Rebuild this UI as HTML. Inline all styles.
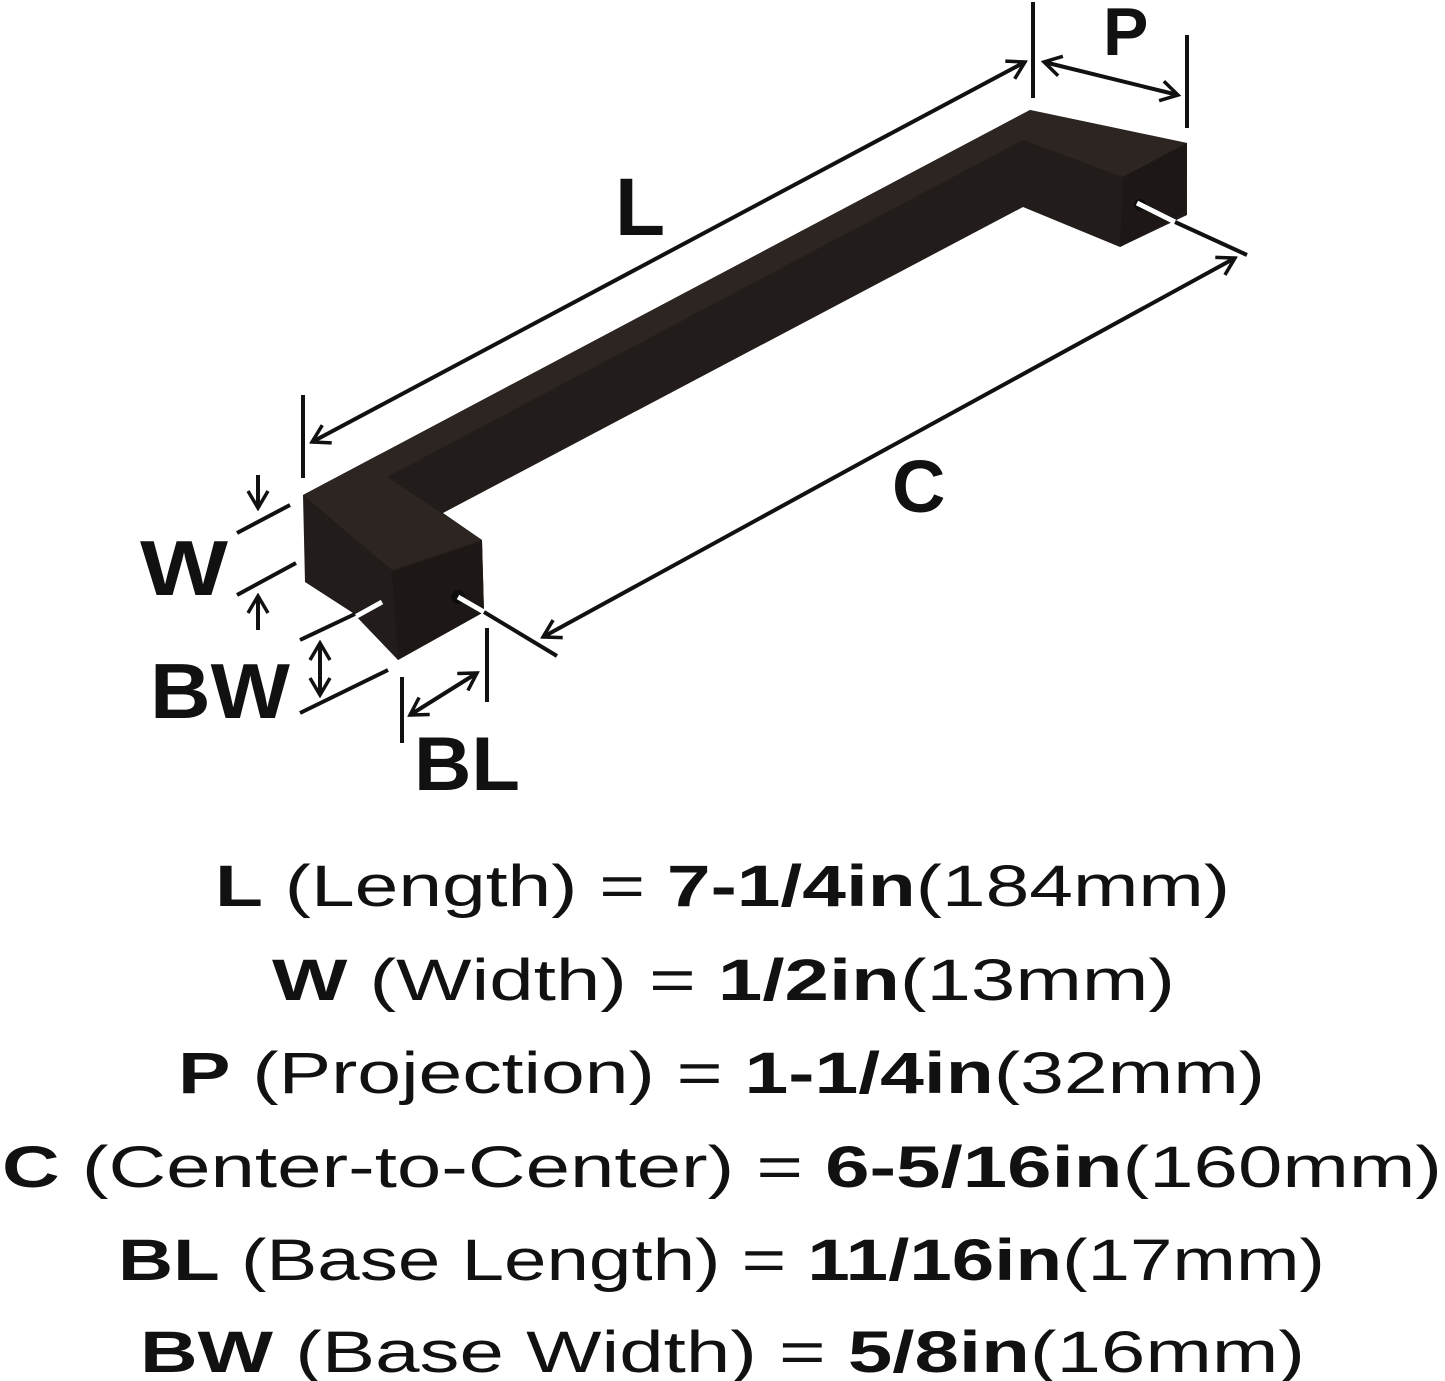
<!DOCTYPE html>
<html><head><meta charset="utf-8"><style>html,body{margin:0;padding:0;background:#fff}svg{display:block}</style></head>
<body>
<svg width="1445" height="1381" viewBox="0 0 1445 1381" xmlns="http://www.w3.org/2000/svg">
<defs>
<marker id="a" viewBox="0 0 24 24" refX="21" refY="12" markerWidth="24" markerHeight="24" markerUnits="userSpaceOnUse" orient="auto-start-reverse">
<polyline points="4,2 21,12 4,22" fill="none" stroke="#111" stroke-width="3.5"/>
</marker>
</defs>
<polygon points="303,495 1030,110 1187,143 1187,215 1120,247 1023,207 443,513 482,540 484,612 398,660 353,613 305,582" fill="#221c1a"/>
<polygon points="303,495 1030,110 1187,143 1123,177 1023,140 387,477 482,540 392,570" fill="#2c2522"/>
<polygon points="392,572 482,541 484,612 398,660" fill="#1d1816"/>
<polygon points="1123,177 1187,143 1185,213 1120,247" fill="#1d1816"/>
<circle cx="458" cy="597" r="7" fill="#0e0c0b"/>
<circle cx="1140" cy="205" r="6" fill="#0e0c0b"/>
<g stroke="#fff" stroke-width="5">
<line x1="355" y1="617" x2="382" y2="602"/>
<line x1="458" y1="597" x2="484" y2="612"/>
<line x1="1137" y1="203" x2="1175" y2="222"/>
</g>
<g stroke="#111" stroke-width="4" fill="none">
<line x1="303" y1="395" x2="303" y2="478"/>
<line x1="1033" y1="2" x2="1033" y2="98"/>
<line x1="312" y1="442" x2="1025" y2="62" marker-start="url(#a)" marker-end="url(#a)"/>
<line x1="1187" y1="35" x2="1187" y2="128"/>
<line x1="1044" y1="62" x2="1178" y2="95" marker-start="url(#a)" marker-end="url(#a)"/>
<line x1="484" y1="612" x2="557" y2="656"/>
<line x1="1175" y1="222" x2="1247" y2="255"/>
<line x1="543" y1="637" x2="1235" y2="258" marker-start="url(#a)" marker-end="url(#a)"/>
<line x1="237" y1="533" x2="290" y2="505"/>
<line x1="237" y1="595" x2="296" y2="563"/>
<line x1="258" y1="475" x2="258" y2="508" marker-end="url(#a)"/>
<line x1="258" y1="630" x2="258" y2="596" marker-end="url(#a)"/>
<line x1="300" y1="640" x2="355" y2="614"/>
<line x1="300" y1="713" x2="388" y2="670"/>
<line x1="320" y1="643" x2="320" y2="695" marker-start="url(#a)" marker-end="url(#a)"/>
<line x1="402" y1="677" x2="402" y2="743"/>
<line x1="487" y1="628" x2="487" y2="702"/>
<line x1="410" y1="715" x2="477" y2="673" marker-start="url(#a)" marker-end="url(#a)"/>
</g>
<g font-family="Liberation Sans, sans-serif" fill="#111" font-weight="bold">
<text x="615" y="235" font-size="82">L</text>
<text x="1103" y="55" font-size="68">P</text>
<text x="892" y="512" font-size="74">C</text>
<text x="140" y="595" font-size="78" textLength="88" lengthAdjust="spacingAndGlyphs">W</text>
<text x="150" y="718" font-size="78" textLength="140" lengthAdjust="spacingAndGlyphs">BW</text>
<text x="414" y="790" font-size="76" textLength="106" lengthAdjust="spacingAndGlyphs">BL</text>
</g>
<g font-family="Liberation Sans, sans-serif" fill="#111" font-size="58">
<text x="215" y="906" textLength="1015" lengthAdjust="spacingAndGlyphs"><tspan font-weight="bold">L</tspan> (Length) = <tspan font-weight="bold">7-1/4in</tspan>(184mm)</text>
<text x="272" y="1000" textLength="903" lengthAdjust="spacingAndGlyphs"><tspan font-weight="bold">W</tspan> (Width) = <tspan font-weight="bold">1/2in</tspan>(13mm)</text>
<text x="178" y="1093" textLength="1087" lengthAdjust="spacingAndGlyphs"><tspan font-weight="bold">P</tspan> (Projection) = <tspan font-weight="bold">1-1/4in</tspan>(32mm)</text>
<text x="2" y="1187" textLength="1440" lengthAdjust="spacingAndGlyphs"><tspan font-weight="bold">C</tspan> (Center-to-Center) = <tspan font-weight="bold">6-5/16in</tspan>(160mm)</text>
<text x="118" y="1280" textLength="1207" lengthAdjust="spacingAndGlyphs"><tspan font-weight="bold">BL</tspan> (Base Length) = <tspan font-weight="bold">11/16in</tspan>(17mm)</text>
<text x="140" y="1372" textLength="1165" lengthAdjust="spacingAndGlyphs"><tspan font-weight="bold">BW</tspan> (Base Width) = <tspan font-weight="bold">5/8in</tspan>(16mm)</text>
</g>
</svg>
</body></html>
